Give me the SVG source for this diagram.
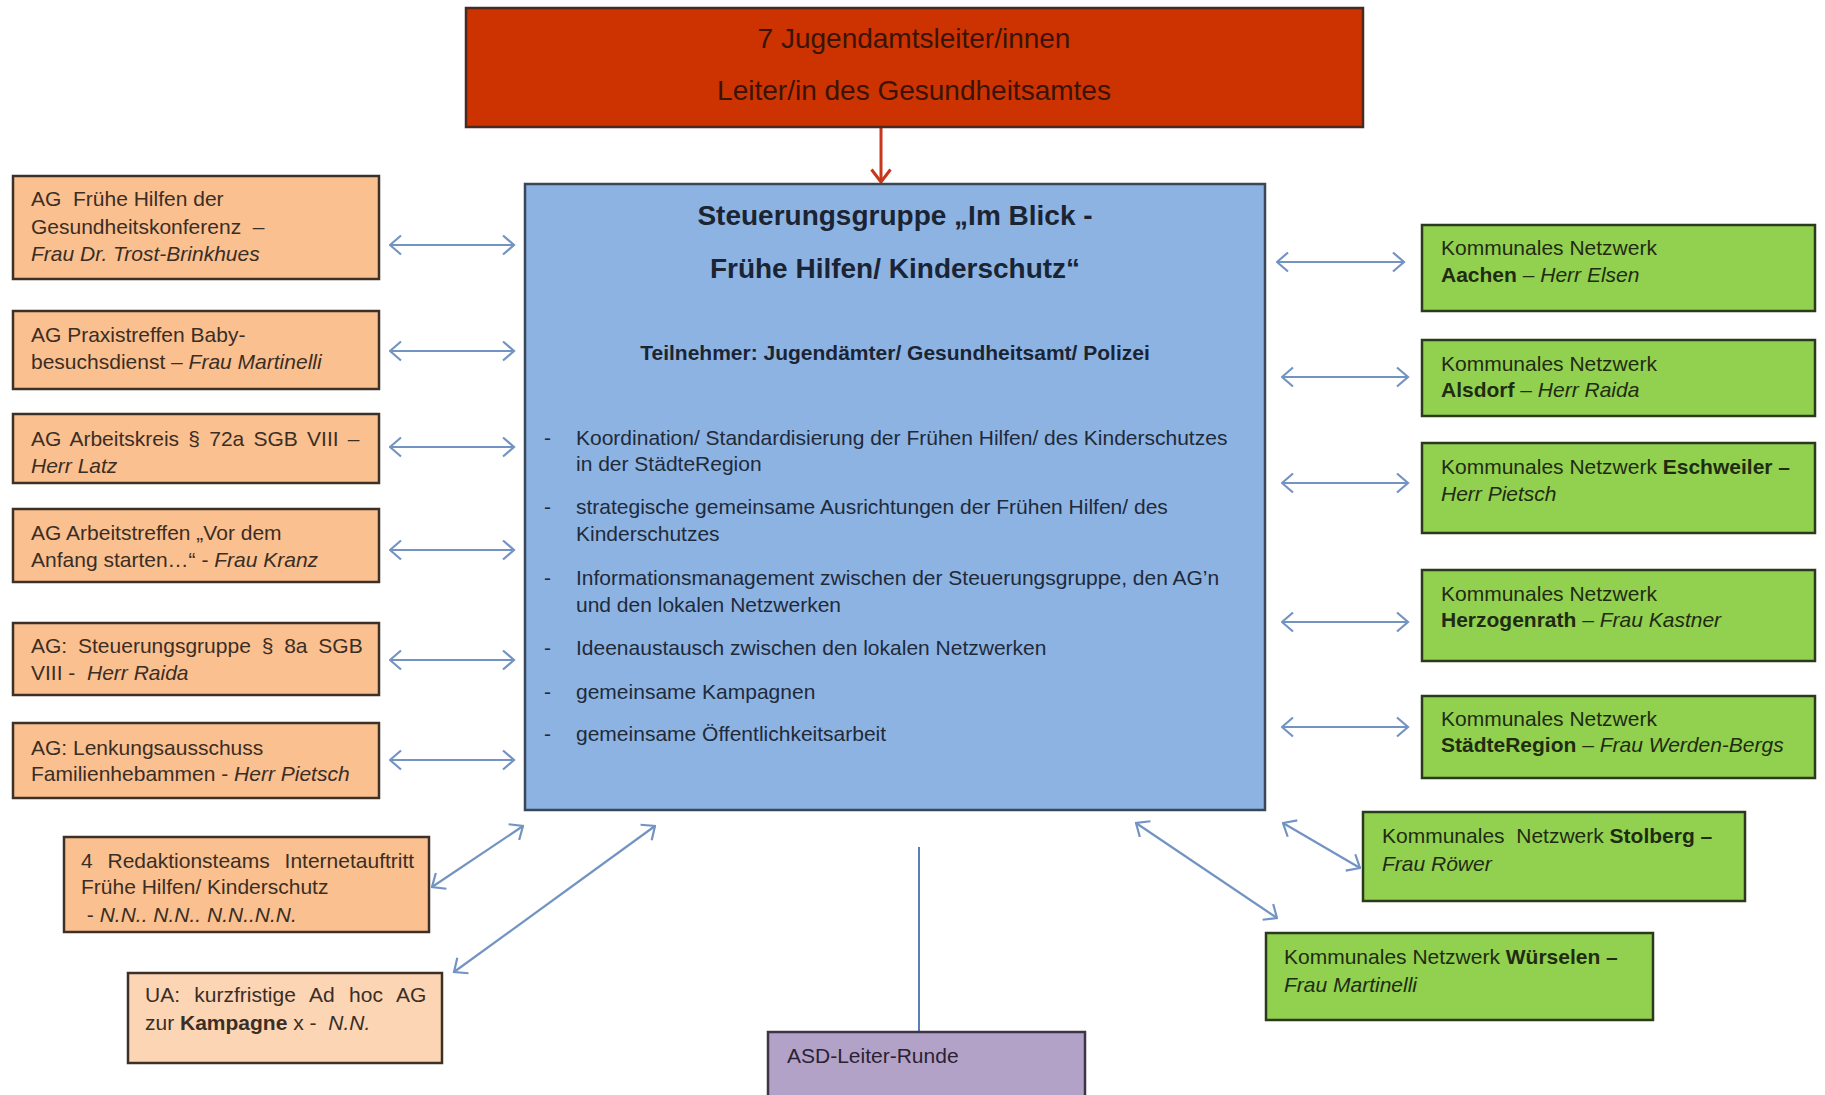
<svg xmlns="http://www.w3.org/2000/svg" width="1825" height="1095" viewBox="0 0 1825 1095">
<defs>
<style>
text{font-family:"Liberation Sans",Arial,sans-serif;white-space:pre;}
.t{font-size:21px;}
.org rect{fill:#FAC090;stroke:#3d3026;stroke-width:2.5;}
.org text{fill:#3a2e25;}
.orl rect{fill:#FCD5B5;stroke:#3d3026;stroke-width:2.5;}
.orl text{fill:#3a2e25;}
.grn rect{fill:#92D050;stroke:#2b3a1c;stroke-width:2.5;}
.grn text{fill:#1f2c12;}
.i{font-style:italic;}
.b{font-weight:bold;}
.conn{stroke:#7393c2;stroke-width:2.2;fill:none;marker-start:url(#ah);marker-end:url(#ah);}
</style>
<marker id="ah" viewBox="0 0 14 22" refX="12.5" refY="11" markerWidth="14" markerHeight="22" markerUnits="userSpaceOnUse" orient="auto-start-reverse">
<path d="M1.5,1.5 L12.5,11 L1.5,20.5" fill="none" stroke="#7393c2" stroke-width="2.2"/>
</marker>
<marker id="ahr" viewBox="0 0 16 22" refX="14" refY="11" markerWidth="16" markerHeight="22" markerUnits="userSpaceOnUse" orient="auto">
<path d="M1.5,1.5 L14,11 L1.5,20.5" fill="none" stroke="#C9361A" stroke-width="3"/>
</marker>
</defs>
<rect x="0" y="0" width="1825" height="1095" fill="#ffffff"/>

<g id="connectors">
<line x1="881" y1="127" x2="881" y2="182" stroke="#C9361A" stroke-width="3" marker-end="url(#ahr)"/>
<line class="conn" x1="390" y1="245" x2="514" y2="245"/>
<line class="conn" x1="390" y1="351" x2="514" y2="351"/>
<line class="conn" x1="390" y1="447" x2="514" y2="447"/>
<line class="conn" x1="390" y1="550" x2="514" y2="550"/>
<line class="conn" x1="390" y1="660" x2="514" y2="660"/>
<line class="conn" x1="390" y1="760" x2="514" y2="760"/>
<line class="conn" x1="432" y1="887" x2="523" y2="826"/>
<line class="conn" x1="454" y1="972" x2="655" y2="826"/>
<line class="conn" x1="1277" y1="262" x2="1404" y2="262"/>
<line class="conn" x1="1282" y1="377" x2="1408" y2="377"/>
<line class="conn" x1="1282" y1="483" x2="1408" y2="483"/>
<line class="conn" x1="1282" y1="622" x2="1408" y2="622"/>
<line class="conn" x1="1282" y1="727" x2="1408" y2="727"/>
<line class="conn" x1="1283" y1="823" x2="1360" y2="868"/>
<line class="conn" x1="1136" y1="823" x2="1277" y2="918"/>
<line x1="919" y1="847" x2="919" y2="1032" stroke="#5a7fb8" stroke-width="2"/>
</g>

<g id="leitung">
<rect x="466" y="8" width="897" height="119" fill="#CC3300" stroke="#4a2a20" stroke-width="2.5"/>
<text x="914" y="48" text-anchor="middle" font-size="28" fill="#3a1408">7 Jugendamtsleiter/innen</text>
<text x="914" y="100" text-anchor="middle" font-size="28" fill="#3a1408">Leiter/in des Gesundheitsamtes</text>
</g>

<g id="steuerungsgruppe">
<rect x="525" y="184" width="740" height="626" fill="#8DB3E2" stroke="#3b4756" stroke-width="2.5"/>
<text x="895" y="225" text-anchor="middle" font-size="28" font-weight="bold" fill="#1b2433">Steuerungsgruppe „Im Blick -</text>
<text x="895" y="278" text-anchor="middle" font-size="28" font-weight="bold" fill="#1b2433">Frühe Hilfen/ Kinderschutz“</text>
<text x="895" y="360" text-anchor="middle" font-size="21" font-weight="bold" fill="#1b2433">Teilnehmer: Jugendämter/ Gesundheitsamt/ Polizei</text>
<g font-size="21" fill="#1f2a3a">
<text x="544" y="445">-</text><text x="576" y="445">Koordination/ Standardisierung der Frühen Hilfen/ des Kinderschutzes</text>
<text x="576" y="471">in der StädteRegion</text>
<text x="544" y="514">-</text><text x="576" y="514">strategische gemeinsame Ausrichtungen der Frühen Hilfen/ des</text>
<text x="576" y="541">Kinderschutzes</text>
<text x="544" y="585">-</text><text x="576" y="585">Informationsmanagement zwischen der Steuerungsgruppe, den AG’n</text>
<text x="576" y="612">und den lokalen Netzwerken</text>
<text x="544" y="655">-</text><text x="576" y="655">Ideenaustausch zwischen den lokalen Netzwerken</text>
<text x="544" y="699">-</text><text x="576" y="699">gemeinsame Kampagnen</text>
<text x="544" y="741">-</text><text x="576" y="741">gemeinsame Öffentlichkeitsarbeit</text>
</g>
</g>

<g id="ag1" class="org">
<rect x="13" y="176" width="366" height="103"/>
<text class="t" x="31" y="206">AG  Frühe Hilfen der</text>
<text class="t" x="31" y="234">Gesundheitskonferenz  –</text>
<text class="t i" x="31" y="261">Frau Dr. Trost-Brinkhues</text>
</g>
<g id="ag2" class="org">
<rect x="13" y="311" width="366" height="78"/>
<text class="t" x="31" y="342">AG Praxistreffen Baby-</text>
<text class="t" x="31" y="369">besuchsdienst – <tspan class="i">Frau Martinelli</tspan></text>
</g>
<g id="ag3" class="org">
<rect x="13" y="414" width="366" height="69"/>
<text class="t" x="31" y="446" word-spacing="3.4">AG Arbeitskreis § 72a SGB VIII –</text>
<text class="t i" x="31" y="473">Herr Latz</text>
</g>
<g id="ag4" class="org">
<rect x="13" y="509" width="366" height="73"/>
<text class="t" x="31" y="540">AG Arbeitstreffen „Vor dem</text>
<text class="t" x="31" y="567">Anfang starten…“ - <tspan class="i">Frau Kranz</tspan></text>
</g>
<g id="ag5" class="org">
<rect x="13" y="623" width="366" height="72"/>
<text class="t" x="31" y="653" word-spacing="5">AG: Steuerungsgruppe § 8a SGB</text>
<text class="t" x="31" y="680">VIII -  <tspan class="i">Herr Raida</tspan></text>
</g>
<g id="ag6" class="org">
<rect x="13" y="723" width="366" height="75"/>
<text class="t" x="31" y="755">AG: Lenkungsausschuss</text>
<text class="t" x="31" y="781">Familienhebammen - <tspan class="i">Herr Pietsch</tspan></text>
</g>
<g id="redaktion" class="org">
<rect x="64" y="837" width="365" height="95"/>
<text class="t" x="81" y="868" word-spacing="9">4 Redaktionsteams Internetauftritt</text>
<text class="t" x="81" y="894">Frühe Hilfen/ Kinderschutz</text>
<text class="t" x="81" y="922"> - <tspan class="i">N.N.. N.N.. N.N..N.N.</tspan></text>
</g>
<g id="ua" class="orl">
<rect x="128" y="973" width="314" height="90"/>
<text class="t" x="145" y="1002" word-spacing="8.5">UA: kurzfristige Ad hoc AG</text>
<text class="t" x="145" y="1030">zur <tspan class="b">Kampagne</tspan> x -  <tspan class="i">N.N.</tspan></text>
</g>

<g id="aachen" class="grn">
<rect x="1422" y="225" width="393" height="86"/>
<text class="t" x="1441" y="255">Kommunales Netzwerk</text>
<text class="t" x="1441" y="282"><tspan class="b">Aachen</tspan> – <tspan class="i">Herr Elsen</tspan></text>
</g>
<g id="alsdorf" class="grn">
<rect x="1422" y="340" width="393" height="76"/>
<text class="t" x="1441" y="371">Kommunales Netzwerk</text>
<text class="t" x="1441" y="397"><tspan class="b">Alsdorf</tspan> – <tspan class="i">Herr Raida</tspan></text>
</g>
<g id="eschweiler" class="grn">
<rect x="1422" y="443" width="393" height="90"/>
<text class="t" x="1441" y="474">Kommunales Netzwerk <tspan class="b">Eschweiler –</tspan></text>
<text class="t i" x="1441" y="501">Herr Pietsch</text>
</g>
<g id="herzogenrath" class="grn">
<rect x="1422" y="570" width="393" height="91"/>
<text class="t" x="1441" y="601">Kommunales Netzwerk</text>
<text class="t" x="1441" y="627"><tspan class="b">Herzogenrath</tspan> – <tspan class="i">Frau Kastner</tspan></text>
</g>
<g id="staedteregion" class="grn">
<rect x="1422" y="696" width="393" height="82"/>
<text class="t" x="1441" y="726">Kommunales Netzwerk</text>
<text class="t" x="1441" y="752"><tspan class="b">StädteRegion</tspan> – <tspan class="i">Frau Werden-Bergs</tspan></text>
</g>
<g id="stolberg" class="grn">
<rect x="1363" y="812" width="382" height="89"/>
<text class="t" x="1382" y="843">Kommunales  Netzwerk <tspan class="b">Stolberg –</tspan></text>
<text class="t i" x="1382" y="871">Frau Röwer</text>
</g>
<g id="wuerselen" class="grn">
<rect x="1266" y="933" width="387" height="87"/>
<text class="t" x="1284" y="964">Kommunales Netzwerk <tspan class="b">Würselen –</tspan></text>
<text class="t i" x="1284" y="992">Frau Martinelli</text>
</g>

<g id="asd">
<rect x="768" y="1032" width="317" height="70" fill="#B3A2C7" stroke="#3d3545" stroke-width="2.5"/>
<text x="787" y="1063" font-size="21" fill="#2a2233">ASD-Leiter-Runde</text>
</g>
</svg>
